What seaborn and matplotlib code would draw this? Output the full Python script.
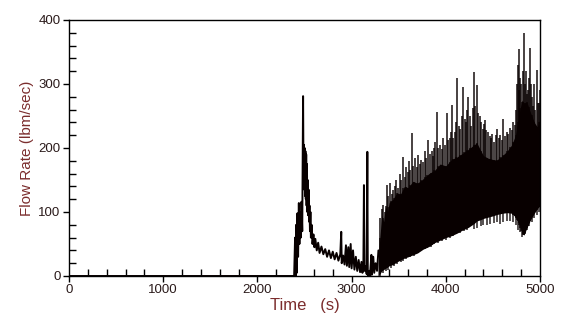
import numpy as np
import matplotlib
matplotlib.use('Agg')
import matplotlib.pyplot as plt
from matplotlib.ticker import MultipleLocator
import seaborn as sns

# quiet part + first peak + decay (time s, flow lbm/sec)
base_t = [0, 2390, 2400, 2405, 2412, 2418, 2425, 2432, 2440, 2446, 2452, 2460, 2468, 2476,
          2485, 2490, 2494, 2498, 2502, 2506, 2510, 2514, 2518, 2522, 2526, 2530, 2534, 2538,
          2543, 2548, 2553, 2558, 2563, 2568, 2575, 2585, 2595, 2605, 2615, 2630, 2645, 2660,
          2680, 2700, 2720, 2740, 2760, 2780, 2800, 2820, 2840, 2860, 2880, 2890, 2895, 2910,
          2925, 2940, 2950, 2965, 2975, 2990, 3000, 3015, 3030, 3045, 3060, 3075, 3090, 3105,
          3115, 3125, 3131, 3137, 3150, 3160, 3167, 3172, 3185, 3195, 3210, 3215, 3230, 3240,
          3255, 3270, 3285]
base_v = [0, 0, 60, 0, 80, 5, 98, 30, 114, 50, 100, 60, 116, 70,
          281, 140, 205, 135, 200, 125, 195, 120, 190, 110, 175, 100, 150, 95,
          135, 85, 110, 70, 100, 60, 80, 50, 65, 45, 58, 40, 52, 36,
          46, 34, 42, 30, 40, 28, 38, 26, 36, 24, 34, 69, 20, 32,
          18, 48, 16, 45, 14, 50, 12, 40, 10, 30, 8, 25, 6, 22,
          5, 14, 142, 8, 15, 3, 194, 1, 8, 0, 33, 2, 30, 5,
          20, 8, 40]

# dense oscillation band (solid envelope)
band_t = [3280, 3300, 3320, 3340, 3360, 3380, 3400, 3440, 3480, 3520, 3560, 3600, 3650,
          3700, 3760, 3820, 3880, 3940, 4000, 4060, 4120, 4180, 4240, 4300, 4330, 4370,
          4400, 4450, 4500, 4540, 4600, 4650, 4700, 4740, 4770, 4790, 4810, 4830, 4860,
          4900, 4940, 4970, 5000]
band_lo = [0, 3, 8, 10, 12, 14, 16, 18, 22, 25, 28, 30, 33,
           36, 42, 46, 52, 56, 60, 63, 67, 72, 76, 82, 86, 88,
           90, 92, 94, 96, 98, 99, 98, 92, 84, 76, 66, 64, 75,
           88, 98, 105, 110]
band_hi = [20, 60, 95, 85, 110, 100, 115, 120, 130, 128, 140, 138, 148,
           145, 152, 160, 165, 175, 172, 182, 186, 192, 198, 205, 208, 196,
           188, 184, 182, 181, 188, 195, 205, 220, 245, 262, 275, 270, 272,
           255, 240, 233, 245]

# individual peaks sticking out of the band
spike_t = [3300, 3318, 3335, 3352, 3372, 3390, 3408, 3425, 3440, 3458, 3475, 3492, 3510,
           3528, 3545, 3562, 3580, 3595, 3610, 3625, 3638, 3655, 3670, 3690, 3708, 3725,
           3740, 3758, 3775, 3795, 3814, 3832, 3850, 3865, 3880, 3890, 3903, 3920, 3940,
           3958, 3975, 3992, 4009, 4025, 4040, 4052, 4063, 4080, 4095, 4110, 4123, 4140,
           4155, 4170, 4186, 4200, 4215, 4228, 4240, 4255, 4270, 4285, 4300, 4315, 4330,
           4345, 4360, 4375, 4390, 4403, 4416, 4432, 4450, 4465, 4480, 4495, 4510, 4528,
           4545, 4562, 4580, 4595, 4611, 4628, 4645, 4662, 4680, 4698, 4715, 4730, 4745,
           4757, 4765, 4772, 4781, 4792, 4800, 4815, 4830, 4840, 4850, 4860, 4870, 4882,
           4894, 4905, 4915, 4928, 4940, 4952, 4965, 4978, 4990, 4998]
spike_v = [90, 105, 111, 100, 142, 125, 145, 128, 135, 140, 150, 138, 160,
           150, 186, 155, 170, 162, 180, 165, 223, 172, 185, 170, 189, 175,
           182, 178, 195, 185, 212, 190, 195, 188, 200, 210, 256, 200, 205,
           198, 215, 205, 254, 212, 215, 225, 267, 215, 225, 240, 309, 235,
           230, 250, 296, 245, 240, 260, 280, 250, 235, 262, 319, 265, 298,
           255, 250, 240, 230, 238, 244, 228, 225, 218, 215, 222, 210, 220,
           230, 215, 220, 212, 245, 218, 225, 222, 232, 228, 240, 236, 260,
           300, 330, 290, 354, 310, 300, 320, 380, 300, 320, 285, 290, 310,
           356, 300, 280, 265, 300, 260, 322, 270, 270, 290]

# troughs hanging below the band
low_t = [3300, 3330, 3360, 3390, 3420, 3450, 3480, 3520, 3550, 3580, 3620, 3660, 3700,
         3740, 3780, 3800, 3840, 3880, 3920, 3960, 4000, 4040, 4080, 4110, 4150, 4190,
         4230, 4260, 4300, 4330, 4370, 4400, 4440, 4470, 4510, 4540, 4580, 4610, 4650,
         4680, 4710, 4740, 4765, 4790, 4805, 4820, 4840, 4860, 4880, 4910, 4940, 4970,
         4990]
low_v = [0, 5, 8, 10, 12, 15, 18, 22, 24, 26, 30, 32, 36,
         40, 42, 44, 46, 50, 52, 55, 57, 60, 62, 65, 67, 70,
         72, 78, 74, 75, 78, 80, 80, 82, 83, 84, 82, 85, 86,
         86, 84, 80, 72, 68, 61, 64, 66, 72, 78, 84, 90, 95,
         100]

line_c = '#080000'
label_c = '#7b2d2d'
tick_c = '#2a1a1a'

sns.set_style('ticks')
plt.rcParams['font.family'] = ['Liberation Sans Narrow', 'DejaVu Sans Condensed',
                               'Liberation Sans', 'DejaVu Sans']

fig = plt.figure(figsize=(5.66, 3.21), dpi=100)
ax = fig.add_axes([69 / 566, 45 / 321, 471 / 566, 256 / 321])

sns.lineplot(x=base_t, y=base_v, ax=ax, color=line_c, lw=1.4, estimator=None, sort=False)
ax.fill_between(band_t, band_lo, band_hi, color=line_c, lw=0)
ax.vlines(spike_t, np.interp(spike_t, band_t, band_lo), spike_v, color=line_c, lw=1.3,
          alpha=0.8)
ax.vlines(low_t, low_v, np.interp(low_t, band_t, band_hi), color=line_c, lw=1.2, alpha=0.8)

ax.set_xlim(0, 5000)
ax.set_ylim(0, 400)
ax.xaxis.set_major_locator(MultipleLocator(1000))
ax.xaxis.set_minor_locator(MultipleLocator(200))
ax.yaxis.set_major_locator(MultipleLocator(100))
ax.yaxis.set_minor_locator(MultipleLocator(20))
ax.tick_params(which='major', direction='out', length=4, width=1, colors='black',
               labelcolor=tick_c, labelsize=9.5, pad=2)
ax.tick_params(which='minor', direction='in', length=5, width=1, colors='black')
for s in ax.spines.values():
    s.set_visible(True)
    s.set_color('black')
    s.set_linewidth(1.0)

ax.set_xlabel('Time   (s)', color=label_c, fontsize=12, labelpad=1)
ax.set_ylabel('Flow Rate (lbm/sec)', color=label_c, fontsize=11, labelpad=3)

fig.savefig('out.png', dpi=100)
